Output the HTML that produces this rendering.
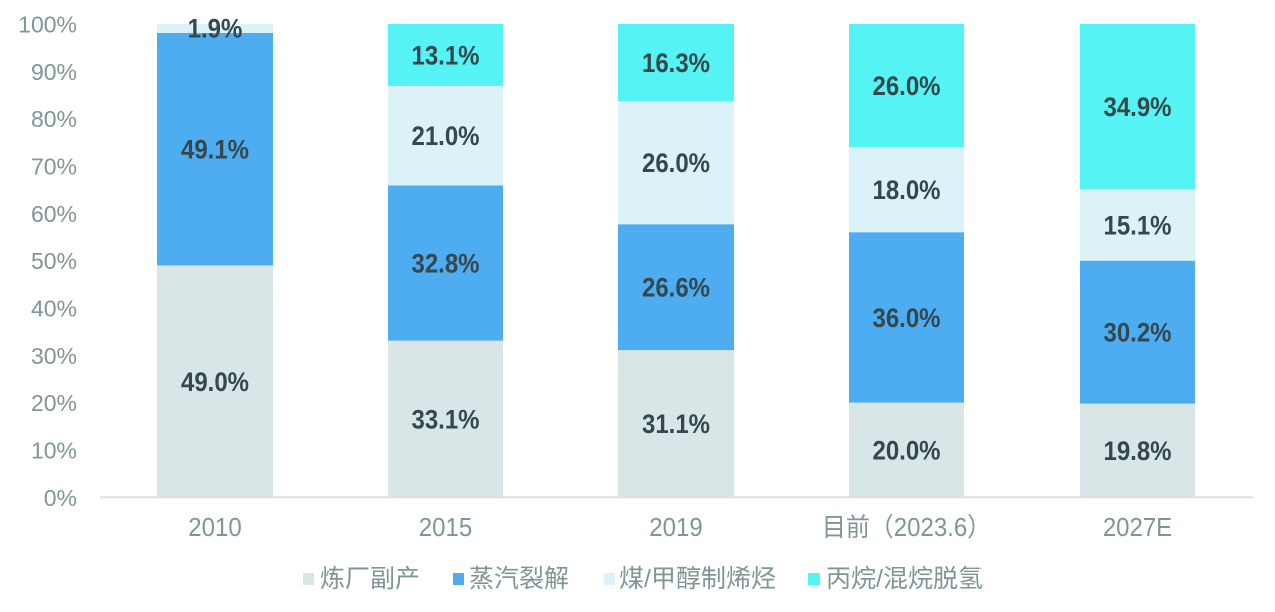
<!DOCTYPE html>
<html><head><meta charset="utf-8"><style>
html,body{margin:0;padding:0;background:#fff;}
svg{display:block;}
.v{font-family:"Liberation Sans",sans-serif;font-weight:bold;font-size:24px;fill:#34484e;text-anchor:middle;}
.t{font-family:"Liberation Sans",sans-serif;font-size:23px;fill:#809696;text-anchor:end;}
.c{font-family:"Liberation Sans","Noto Sans CJK SC",sans-serif;font-size:24px;fill:#809696;text-anchor:middle;}
.l{font-family:"Liberation Sans","Noto Sans CJK SC",sans-serif;font-size:25px;fill:#7f9596;}
</style></head><body>
<svg width="1275" height="612" viewBox="0 0 1275 612" xmlns="http://www.w3.org/2000/svg">
<rect width="1275" height="612" fill="#fff"/>
<g class="t">
<text x="77" y="32.5">100%</text>
<text x="77" y="79.8">90%</text>
<text x="77" y="127.2">80%</text>
<text x="77" y="174.5">70%</text>
<text x="77" y="221.8">60%</text>
<text x="77" y="269.2">50%</text>
<text x="77" y="316.5">40%</text>
<text x="77" y="363.8">30%</text>
<text x="77" y="411.1">20%</text>
<text x="77" y="458.5">10%</text>
<text x="77" y="505.8">0%</text>
</g>
<rect x="157" y="265.4" width="116" height="231.9" fill="#d9e6e7"/>
<rect x="157" y="33" width="116" height="232.4" fill="#4eacf0"/>
<rect x="157" y="24" width="116" height="9" fill="#dcf2f9"/>
<rect x="388" y="340.6" width="115" height="156.7" fill="#d9e6e7"/>
<rect x="388" y="185.4" width="115" height="155.2" fill="#4eacf0"/>
<rect x="388" y="86" width="115" height="99.4" fill="#dcf2f9"/>
<rect x="388" y="24" width="115" height="62" fill="#55f3f3"/>
<rect x="618" y="350.1" width="116" height="147.2" fill="#d9e6e7"/>
<rect x="618" y="224.2" width="116" height="125.9" fill="#4eacf0"/>
<rect x="618" y="101.1" width="116" height="123.1" fill="#dcf2f9"/>
<rect x="618" y="24" width="116" height="77.1" fill="#55f3f3"/>
<rect x="849" y="402.6" width="115" height="94.7" fill="#d9e6e7"/>
<rect x="849" y="232.2" width="115" height="170.4" fill="#4eacf0"/>
<rect x="849" y="147.1" width="115" height="85.1" fill="#dcf2f9"/>
<rect x="849" y="24" width="115" height="123.1" fill="#55f3f3"/>
<rect x="1080" y="403.6" width="115" height="93.7" fill="#d9e6e7"/>
<rect x="1080" y="260.7" width="115" height="142.9" fill="#4eacf0"/>
<rect x="1080" y="189.2" width="115" height="71.5" fill="#dcf2f9"/>
<rect x="1080" y="24" width="115" height="165.2" fill="#55f3f3"/>
<rect x="100" y="496.3" width="1153" height="2" fill="#d9e2e4"/>
<g class="v">
<text transform="translate(215,390.8) scale(1,1.1)">49.0%</text>
<text transform="translate(215,158.7) scale(1,1.1)">49.1%</text>
<text transform="translate(215,37.5) scale(1,1.1)">1.9%</text>
<text transform="translate(445.5,428.5) scale(1,1.1)">33.1%</text>
<text transform="translate(445.5,272.5) scale(1,1.1)">32.8%</text>
<text transform="translate(445.5,145.2) scale(1,1.1)">21.0%</text>
<text transform="translate(445.5,64.5) scale(1,1.1)">13.1%</text>
<text transform="translate(676,433.2) scale(1,1.1)">31.1%</text>
<text transform="translate(676,296.6) scale(1,1.1)">26.6%</text>
<text transform="translate(676,172.1) scale(1,1.1)">26.0%</text>
<text transform="translate(676,72) scale(1,1.1)">16.3%</text>
<text transform="translate(906.5,459.4) scale(1,1.1)">20.0%</text>
<text transform="translate(906.5,326.9) scale(1,1.1)">36.0%</text>
<text transform="translate(906.5,199.1) scale(1,1.1)">18.0%</text>
<text transform="translate(906.5,95) scale(1,1.1)">26.0%</text>
<text transform="translate(1137.5,459.9) scale(1,1.1)">19.8%</text>
<text transform="translate(1137.5,341.6) scale(1,1.1)">30.2%</text>
<text transform="translate(1137.5,234.4) scale(1,1.1)">15.1%</text>
<text transform="translate(1137.5,116) scale(1,1.1)">34.9%</text>
</g>
<g class="c">
<text transform="translate(215,536) scale(1,1.07)">2010</text>
<text transform="translate(445.5,536) scale(1,1.07)">2015</text>
<text transform="translate(676,536) scale(1,1.07)">2019</text>
<text transform="translate(906.5,536) scale(1,1.07)">目前（2023.6）</text>
<text transform="translate(1137.5,536) scale(1,1.07)">2027E</text>
</g>
<rect x="303" y="573" width="11" height="12" fill="#d9e6e7"/>
<text class="l" x="320" y="587">炼厂副产</text>
<rect x="453" y="573" width="11" height="12" fill="#4eacf0"/>
<text class="l" x="469" y="587">蒸汽裂解</text>
<rect x="604" y="573" width="11" height="12" fill="#dcf2f9"/>
<text class="l" x="619" y="587">煤/甲醇制烯烃</text>
<rect x="808" y="573" width="12" height="12" fill="#55f3f3"/>
<text class="l" x="826" y="587">丙烷/混烷脱氢</text>
</svg>
</body></html>
